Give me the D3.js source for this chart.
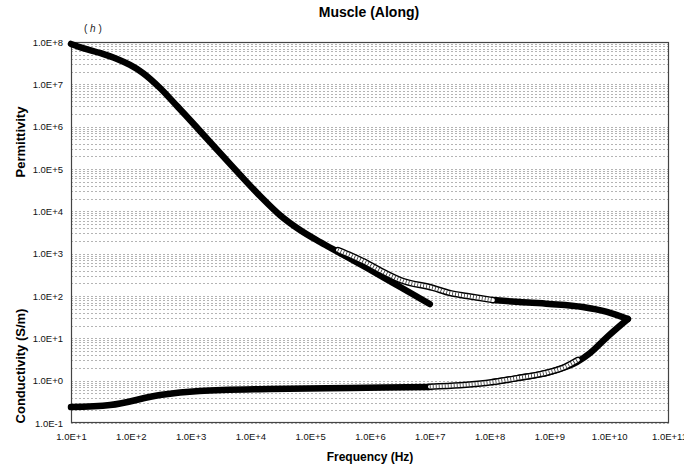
<!DOCTYPE html>
<html>
<head>
<meta charset="utf-8">
<script src="https://cdn.jsdelivr.net/npm/d3@7"></script>
<style>
  html, body { margin: 0; padding: 0; background: #fff; }
  svg { display: block; font-family: "Liberation Sans", Arial, Helvetica, sans-serif; }
</style>
</head>
<body>
<svg id="chart" width="684" height="466"></svg>
<script>
// Frequency (Hz) / value pairs for each measured data set

// Permittivity, low-frequency set (10 Hz - 10 MHz)
const permLowFreq = [10, 15.8, 30.5, 59, 97, 160, 308, 593, 977, 1436, 5110, 1.45e4, 3.1e4, 6.75e4, 1.46e5, 3.15e5, 8.9e5, 3.2e6, 1.0e7];
const permLowVal  = [9.0e7, 7.2e7, 5.5e7, 3.97e7, 2.87e7, 1.85e7, 8.2e6, 3.07e6, 1.44e6, 7.9e5, 1.11e5, 2.3e4, 8200, 3620, 1885, 1035, 458, 163, 64.6];

// Permittivity, mid-frequency set (open circles)
const permMidFreq = [2.9e5, 5.0e5, 8.9e5, 1.6e6, 3.2e6, 1.13e7, 2.2e7, 4.2e7, 1.14e8];
const permMidVal  = [1220, 880, 601, 380, 239, 155, 117, 100, 80];

// Permittivity, high-frequency set (100 MHz - 20 GHz)
const permHighFreq = [1.14e8, 3.2e8, 1.0e9, 3.6e9, 9.2e9, 2.05e10];
const permHighVal  = [80, 72, 65, 55, 42, 28.6];

// Conductivity (S/m), low-frequency set
const condLowFreq = [10, 45, 308, 1.4e3, 2.1e4, 4.6e5, 1.0e7];
const condLowVal  = [0.238, 0.266, 0.458, 0.57, 0.635, 0.67, 0.71];

// Conductivity, mid-frequency set (open circles)
const condMidFreq = [1.0e7, 3.2e7, 1.14e8, 2.9e8, 1.0e9, 1.8e9, 3.0e9];
const condMidVal  = [0.72, 0.78, 0.93, 1.15, 1.6, 2.1, 3.1];

// Conductivity, high-frequency set
const condHighFreq = [1.14e8, 2.9e8, 1.0e9, 2.9e9, 4.8e9, 9.2e9, 2.05e10];
const condHighVal  = [0.93, 1.15, 1.6, 2.75, 4.5, 10.7, 28.6];

// Axis ticks (decade exponents)
const xTickExps = [1, 2, 3, 4, 5, 6, 7, 8, 9, 10, 11];
const yTickExps = [-1, 0, 1, 2, 3, 4, 5, 6, 7, 8];

const chartTitle = "Muscle (Along)";
const panelTag = "h";
const xTitle = "Frequency (Hz)";
const yTitleTop = "Permittivity";
const yTitleBottom = "Conductivity (S/m)";

// ---- layout ----
const plot = { left: 71, right: 669, top: 42, bottom: 423 };

const svg = d3.select("#chart");

const x = d3.scaleLog().domain([1e1, 1e11]).range([plot.left, plot.right]);
const y = d3.scaleLog().domain([1e-1, 1e8]).range([plot.bottom, plot.top]);

const sci = e => "1.0E" + (e >= 0 ? "+" : "-") + Math.abs(e);

// Horizontal grid lines at every log sub-division
const gridVals = [];
for (let k = -1; k < 8; k++) {
  for (let m = 1; m <= 9; m++) gridVals.push(m * Math.pow(10, k));
}
gridVals.push(1e8);

svg.append("g")
  .selectAll("line")
  .data(gridVals)
  .join("line")
  .attr("x1", plot.left)
  .attr("x2", plot.right)
  .attr("y1", d => Math.round(y(d)) + 0.5)
  .attr("y2", d => Math.round(y(d)) + 0.5)
  .attr("stroke", "#b4b4b4")
  .attr("stroke-width", 1)
  .attr("stroke-dasharray", "2,2");

// Axes (labels only; frame drawn separately)
const yAxis = d3.axisLeft(y)
  .tickValues(yTickExps.map(e => Math.pow(10, e)))
  .tickFormat(d => sci(Math.round(Math.log10(d))))
  .tickSize(0)
  .tickPadding(8);

const xAxis = d3.axisBottom(x)
  .tickValues(xTickExps.map(e => Math.pow(10, e)))
  .tickFormat(d => sci(Math.round(Math.log10(d))))
  .tickSize(0)
  .tickPadding(10);

const gy = svg.append("g").attr("transform", `translate(${plot.left},0)`).call(yAxis);
const gx = svg.append("g").attr("transform", `translate(0,${plot.bottom})`).call(xAxis);
[gx, gy].forEach(g => {
  g.select(".domain").remove();
  g.selectAll("text")
    .attr("font-family", "'Liberation Sans', Arial, sans-serif")
    .attr("font-size", 9.5)
    .attr("fill", "#111");
});

// Plot frame
svg.append("rect")
  .attr("x", plot.left + 0.5)
  .attr("y", plot.top + 0.5)
  .attr("width", plot.right - plot.left - 1)
  .attr("height", plot.bottom - plot.top - 1)
  .attr("fill", "none")
  .attr("stroke", "#444")
  .attr("stroke-width", 1.2);

// ---- series ----
const line = d3.line()
  .x(d => x(d[0]))
  .y(d => y(d[1]))
  .curve(d3.curveMonotoneX);

const zip = (fs, vs) => fs.map((f, i) => [f, vs[i]]);

const solidSets = [
  zip(permLowFreq, permLowVal),
  zip(condLowFreq, condLowVal),
  zip(permHighFreq, permHighVal),
  zip(condHighFreq, condHighVal)
];
const ringSets = [
  zip(permMidFreq, permMidVal),
  zip(condMidFreq, condMidVal)
];

const gSeries = svg.append("g");

// dense filled markers read as a thick black trace
solidSets.forEach(pts => {
  gSeries.append("path")
    .attr("d", line(pts))
    .attr("fill", "none")
    .attr("stroke", "#000")
    .attr("stroke-width", 6.5)
    .attr("stroke-linecap", "round")
    .attr("stroke-linejoin", "round");
});

// chain of open circles: outlined tube with ring separators
ringSets.forEach(pts => {
  const d = line(pts);
  gSeries.append("path").attr("d", d)
    .attr("fill", "none").attr("stroke", "#000")
    .attr("stroke-width", 6.5).attr("stroke-linecap", "round");
  gSeries.append("path").attr("d", d)
    .attr("fill", "none").attr("stroke", "#fff")
    .attr("stroke-width", 3.6).attr("stroke-linecap", "round");
  gSeries.append("path").attr("d", d)
    .attr("fill", "none").attr("stroke", "#333")
    .attr("stroke-width", 3.8)
    .attr("stroke-dasharray", "0.8,2.2");
});

// ---- titles ----
svg.append("text")
  .attr("x", 369).attr("y", 17)
  .attr("text-anchor", "middle")
  .attr("font-size", 14).attr("font-weight", "bold")
  .text(chartTitle);

const tag = svg.append("text")
  .attr("x", 84).attr("y", 32)
  .attr("font-size", 10).attr("fill", "#222");
tag.append("tspan").text("( ");
tag.append("tspan").attr("font-style", "italic").text(panelTag);
tag.append("tspan").text(" )");

svg.append("text")
  .attr("x", 370).attr("y", 461)
  .attr("text-anchor", "middle")
  .attr("font-size", 12).attr("font-weight", "bold")
  .text(xTitle);

svg.append("text")
  .attr("transform", "translate(25,142) rotate(-90)")
  .attr("text-anchor", "middle")
  .attr("font-size", 13).attr("font-weight", "bold")
  .text(yTitleTop);

svg.append("text")
  .attr("transform", "translate(25,366) rotate(-90)")
  .attr("text-anchor", "middle")
  .attr("font-size", 13).attr("font-weight", "bold")
  .text(yTitleBottom);
</script>
</body>
</html>
